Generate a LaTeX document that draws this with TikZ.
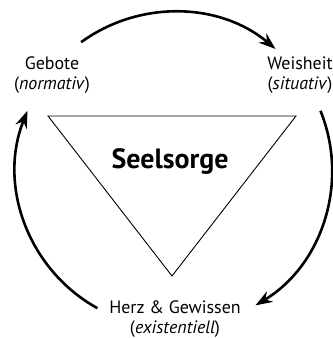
\documentclass[tikz,border=0pt]{standalone}
\usepackage{fontspec}
\setmainfont{PT Sans}
\usetikzlibrary{arrows.meta,calc,positioning}
\newcommand{\ringradius}{158}
\tikzset{
  >={Stealth[length=17bp,width=12bp]},
  x=1bp,y=1bp,
  lbl/.style={align=center,inner sep=0,font=\fontsize{18}{20}\selectfont},
  title/.style={inner sep=0,font=\bfseries\fontsize{28}{32}\selectfont},
  tri/.style={draw,line width=0.9bp,line join=miter},
  cycle/.style={draw,->,line width=2.6bp},
}

\begin{document}
\begin{tikzpicture}
  \useasboundingbox (0,0) rectangle (333,338);
  \coordinate (ctr) at (174,168);
  % triangle
  \coordinate (tl) at (48,222);
  \coordinate (tr) at (296,222);
  \coordinate (bot) at (172,62);
  \path [tri] (tl) -- (tr) -- (bot) -- cycle;
  \node (seel) [title,anchor=base] at (170,170) {Seelsorge};
  % labels
  \node (gebote) [lbl] at (52,263) {Gebote\\(\textit{normativ})};
  \node (weisheit) [lbl] at (300,263) {Weisheit\\(\textit{situativ})};
  \node (herz) [lbl] at (175,19) {Herz \& Gewissen\\(\textit{existentiell})};
  % cycle arrows
  \coordinate (a) at ($(ctr)+(126:\ringradius)$);
  \coordinate (b) at ($(ctr)+(22:\ringradius)$);
  \coordinate (c) at ($(ctr)+(241:\ringradius)$);
  \path [cycle] (a) arc[start angle=126,end angle=50,radius=\ringradius];
  \path [cycle] (b) arc[start angle=22,end angle=-59,radius=\ringradius];
  \path [cycle] (c) arc[start angle=241,end angle=158,radius=\ringradius];
\end{tikzpicture}
\end{document}
